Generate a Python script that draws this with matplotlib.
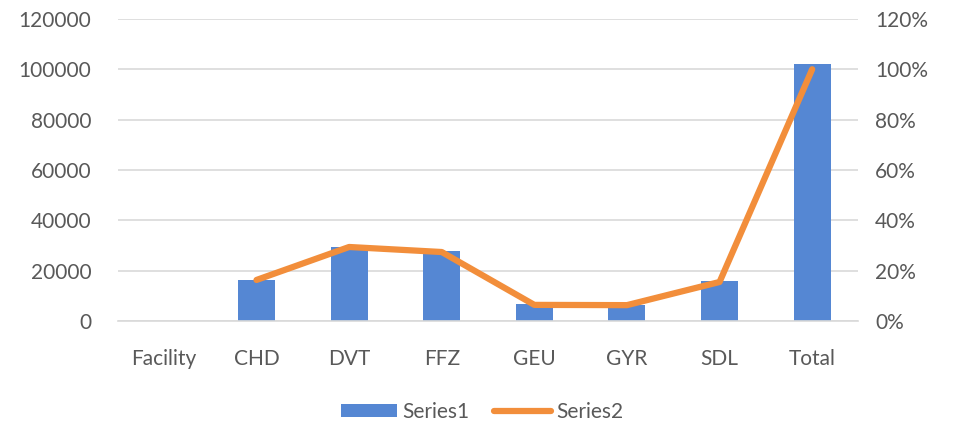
import numpy as np
import matplotlib.pyplot as plt
from matplotlib.ticker import FuncFormatter

categories = ["Facility", "CHD", "DVT", "FFZ", "GEU", "GYR", "SDL", "Total"]
series1 = [np.nan, 16200, 29500, 27700, 6600, 6300, 15900, 102200]
series2 = [np.nan, 0.163, 0.294, 0.274, 0.064, 0.063, 0.155, 1.0]

text_color = "#595959"
grid_color = "#d9d9d9"
bar_color = "#5587d3"
line_color = "#f28e3b"

plt.rcParams["font.family"] = ["Lato", "DejaVu Sans"]
fs = 15

fig = plt.figure(figsize=(9.56, 4.30), dpi=100)
ax = fig.add_axes([0.123, 0.2535, 0.775, 0.7025])
ax2 = ax.twinx()

x = np.arange(len(categories))
ax.bar(x, series1, width=0.4, color=bar_color, zorder=2, label="Series1")
ax2.plot(x, series2, color=line_color, linewidth=4.5, solid_capstyle="round",
         solid_joinstyle="round", label="Series2", zorder=3)

ax.set_xlim(-0.5, len(categories) - 0.5)
ax.set_ylim(0, 120000)
ax2.set_ylim(0, 1.2)
ax.set_yticks(np.arange(0, 120001, 20000))
ax2.set_yticks(np.arange(0, 1.21, 0.2))
ax2.yaxis.set_major_formatter(FuncFormatter(lambda v, p: f"{v * 100:.0f}%"))

ax.set_xticks(x)
ax.set_xticklabels(categories)
ax.grid(axis="y", color=grid_color, linewidth=1.2, zorder=0)
ax.set_axisbelow(True)

for a in (ax, ax2):
    for s in a.spines.values():
        s.set_visible(False)
    a.tick_params(length=0, labelsize=fs, colors=text_color)
ax.spines["bottom"].set_visible(True)
ax.spines["bottom"].set_color(grid_color)
ax.spines["bottom"].set_linewidth(1.2)
ax.tick_params(axis="x", pad=20)
ax.tick_params(axis="y", pad=19)
ax2.tick_params(axis="y", pad=12)

h1, l1 = ax.get_legend_handles_labels()
h2, l2 = ax2.get_legend_handles_labels()
fig.legend(h1 + h2, l1 + l2, loc="center", bbox_to_anchor=(0.504, 0.042), ncol=2,
           frameon=False, fontsize=fs, labelcolor=text_color,
           handlelength=2.7, handleheight=0.55, handletextpad=0.25, columnspacing=1.2)

fig.savefig("out.png", dpi=100)
